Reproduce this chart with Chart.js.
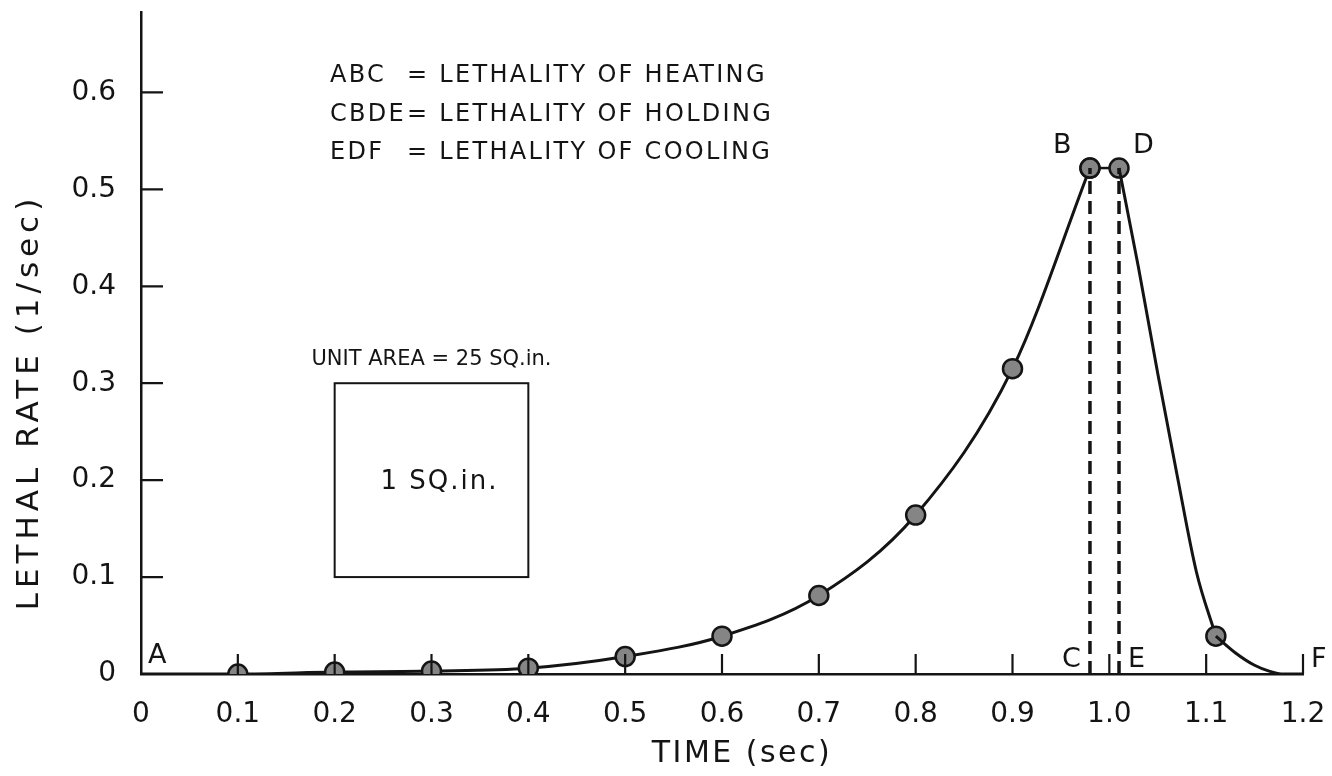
<!DOCTYPE html>
<html>
<head>
<meta charset="utf-8">
<script src="https://cdn.jsdelivr.net/npm/chart.js@4/dist/chart.umd.min.js"></script>
<style>
  html, body { margin: 0; padding: 0; background: #fff; }
  #wrap { width: 1332px; height: 776px; }
</style>
</head>
<body>
<div id="wrap"><canvas id="lethalChart"></canvas></div>
<script>
// Tick values for both axes
const timeTicks = [0, 0.1, 0.2, 0.3, 0.4, 0.5, 0.6, 0.7, 0.8, 0.9, 1.0, 1.1, 1.2];
const rateTicks = [0, 0.1, 0.2, 0.3, 0.4, 0.5, 0.6];

// Heating curve A -> B (first point is A, no marker)
const heatTime = [0, 0.1, 0.2, 0.3, 0.4, 0.5, 0.6, 0.7, 0.8, 0.9, 0.98];
const heatRate = [0, 0, 0.002, 0.003, 0.006, 0.018, 0.039, 0.081, 0.164, 0.315, 0.522];

// Holding B -> D
const holdTime = [0.98, 1.01];
const holdRate = [0.522, 0.522];

// Cooling curve D -> F (only 1.11 is a marked point)
const coolTime = [1.01, 1.03, 1.05, 1.07, 1.09, 1.11, 1.13, 1.15, 1.165, 1.18, 1.2];
const coolRate = [0.522, 0.42, 0.31, 0.205, 0.105, 0.039, 0.022, 0.009, 0.003, 0, 0];
const coolMarkIndex = 5;

// Dashed drops B -> C and D -> E
const dropTimes = [0.98, 1.01];

const INK = '#141414';
const FONT = "'DejaVu Sans', sans-serif";

const toPoints = (xs, ys) => xs.map((x, i) => ({ x: x, y: ys[i] }));

const markerStyle = {
    pointBackgroundColor: '#858585',
    pointBorderColor: INK,
    pointBorderWidth: 2.5,
    pointHoverRadius: 9.5
};

const coolPts = toPoints(coolTime, coolRate);

const datasets = [
    Object.assign({
        label: 'heating',
        data: toPoints(heatTime, heatRate),
        borderColor: INK, borderWidth: 3,
        cubicInterpolationMode: 'monotone',
        pointRadius: heatTime.map((t, i) => (i === 0 ? 0 : 9.5))
    }, markerStyle),
    // cooling is split at the 1.11 point: the curve bends sharply under that marker
    {
        label: 'cooling tail',
        data: coolPts.slice(coolMarkIndex),
        borderColor: INK, borderWidth: 3,
        cubicInterpolationMode: 'monotone',
        pointRadius: 0
    },
    Object.assign({
        label: 'cooling',
        data: coolPts.slice(0, coolMarkIndex + 1),
        borderColor: INK, borderWidth: 3,
        cubicInterpolationMode: 'monotone',
        pointRadius: coolPts.slice(0, coolMarkIndex + 1).map((p, i) => (i === coolMarkIndex ? 9.5 : 0))
    }, markerStyle),
    Object.assign({
        label: 'holding',
        data: toPoints(holdTime, holdRate),
        borderColor: INK, borderWidth: 2.5,
        pointRadius: 9.5
    }, markerStyle)
];

dropTimes.forEach((t, i) => {
    datasets.unshift({
        label: 'drop' + i,
        data: [{ x: t, y: 0 }, { x: t, y: holdRate[i] }],
        borderColor: INK, borderWidth: 3.5,
        borderDash: [13, 7],
        pointRadius: 0
    });
});

function textSpaced(ctx, str, x, y, spacing) {
    ctx.letterSpacing = spacing + 'px';
    ctx.fillText(str, x, y);
    ctx.letterSpacing = '0px';
}

// ticks inside the axes, letters, unit square and the notes
const decorPlugin = {
    id: 'decor',
    afterDraw(chart) {
        const ctx = chart.ctx;
        const xs = chart.scales.x, ys = chart.scales.y;
        const x0 = xs.getPixelForValue(0), y0 = ys.getPixelForValue(0);
        ctx.save();
        ctx.strokeStyle = INK;
        ctx.fillStyle = INK;

        // tick marks
        ctx.lineWidth = 2.2;
        ctx.beginPath();
        timeTicks.forEach(v => {
            if (v === 0) return;
            const px = xs.getPixelForValue(v);
            ctx.moveTo(px, y0); ctx.lineTo(px, y0 - 20);
        });
        rateTicks.forEach(v => {
            if (v === 0) return;
            const py = ys.getPixelForValue(v);
            ctx.moveTo(x0, py); ctx.lineTo(x0 + 22, py);
        });
        ctx.stroke();

        // unit square 0.2 x 0.2
        ctx.lineWidth = 2;
        const bx1 = xs.getPixelForValue(0.2), bx2 = xs.getPixelForValue(0.4);
        const by1 = ys.getPixelForValue(0.3), by2 = ys.getPixelForValue(0.1);
        ctx.strokeRect(bx1, by1, bx2 - bx1, by2 - by1);

        ctx.textBaseline = 'middle';
        ctx.textAlign = 'center';
        ctx.font = '21px ' + FONT;
        ctx.fillText('UNIT AREA = 25 SQ.in.', (bx1 + bx2) / 2, by1 - 24);
        ctx.font = '26px ' + FONT;
        textSpaced(ctx, '1 SQ.in.', (bx1 + bx2) / 2 + 8, (by1 + by2) / 2 + 2, 2);

        // legend notes
        ctx.textAlign = 'left';
        ctx.font = '24px ' + FONT;
        const notes = [['ABC', 'LETHALITY OF HEATING'], ['CBDE', 'LETHALITY OF HOLDING'], ['EDF', 'LETHALITY OF COOLING']];
        notes.forEach((n, i) => {
            const ty = 76 + i * 38.5;
            textSpaced(ctx, n[0], 330, ty, 2.3);
            textSpaced(ctx, '= ' + n[1], 407, ty, 2.3);
        });

        // point letters
        ctx.font = '27px ' + FONT;
        const bx = xs.getPixelForValue(holdTime[0]), dx = xs.getPixelForValue(holdTime[1]);
        const peakY = ys.getPixelForValue(holdRate[0]);
        ctx.fillText('A', x0 + 7, y0 - 18);
        ctx.fillText('B', bx - 37, peakY - 22);
        ctx.fillText('D', dx + 14, peakY - 22);
        ctx.fillText('C', bx - 28, y0 - 14);
        ctx.fillText('E', dx + 9, y0 - 14);
        ctx.fillText('F', xs.getPixelForValue(1.2) + 8, y0 - 14);

        // axis titles
        ctx.font = '30px ' + FONT;
        ctx.textAlign = 'center';
        textSpaced(ctx, 'TIME (sec)', 742, 754, 2.5);
        ctx.translate(30, 402);
        ctx.rotate(-Math.PI / 2);
        ctx.font = '31px ' + FONT;
        textSpaced(ctx, 'LETHAL RATE (1/sec)', 0, 0, 5);
        ctx.restore();
    }
};

const noEdgePadding = s => { s.paddingTop = 0; s.paddingBottom = 0; s.paddingLeft = 0; s.paddingRight = 0; };

new Chart(document.getElementById('lethalChart'), {
    type: 'line',
    data: { datasets: datasets },
    options: {
        responsive: true,
        maintainAspectRatio: false,
        animation: false,
        layout: { padding: { top: 7, right: 29, left: 0, bottom: 0 } },
        plugins: { legend: { display: false }, tooltip: { enabled: false } },
        scales: {
            x: {
                type: 'linear', min: 0, max: 1.2,
                afterBuildTicks: s => { s.ticks = timeTicks.map(v => ({ value: v })); },
                afterFit: s => { s.height = 102; noEdgePadding(s); },
                grid: { display: false, drawTicks: false },
                border: { display: true, color: INK, width: 2.5 },
                ticks: {
                    color: INK, padding: 24, maxRotation: 0, autoSkip: false,
                    font: { family: FONT, size: 28 },
                    callback: v => (v === 0 ? '0' : v.toFixed(1))
                }
            },
            y: {
                type: 'linear', min: 0, max: 0.683,
                afterBuildTicks: s => { s.ticks = rateTicks.map(v => ({ value: v })); },
                afterFit: s => { s.width = 141; noEdgePadding(s); },
                grid: { display: false, drawTicks: false },
                border: { display: true, color: INK, width: 2.5 },
                ticks: {
                    color: INK, padding: 25, autoSkip: false,
                    font: { family: FONT, size: 28 },
                    callback: v => (v === 0 ? '0' : v.toFixed(1))
                }
            }
        }
    },
    plugins: [decorPlugin]
});
</script>
</body>
</html>
